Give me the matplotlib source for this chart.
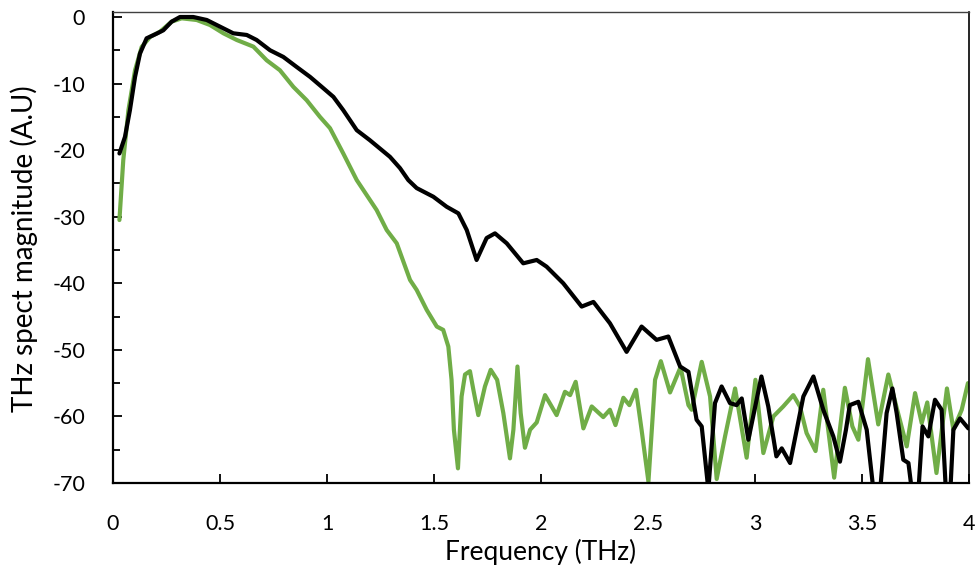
import matplotlib
matplotlib.use("Agg")
import matplotlib.pyplot as plt
from matplotlib.ticker import MultipleLocator

plt.rcParams['font.family'] = ['Lato', 'DejaVu Sans']
plt.rcParams['axes.unicode_minus'] = False

# Black series
black_f = [0.03, 0.056, 0.079, 0.103, 0.126, 0.157, 0.204, 0.235, 0.274, 0.313, 0.375, 0.438, 0.5,
           0.562, 0.625, 0.671, 0.734, 0.796, 0.858, 0.921, 0.983, 1.03, 1.076, 1.139, 1.2, 1.294,
           1.341, 1.38, 1.419, 1.497, 1.559, 1.614, 1.653, 1.699, 1.746, 1.785, 1.84, 1.917, 1.98,
           2.026, 2.104, 2.19, 2.245, 2.322, 2.4, 2.47, 2.54, 2.595, 2.65, 2.689, 2.727, 2.751,
           2.782, 2.813, 2.844, 2.883, 2.914, 2.938, 2.969, 3.03, 3.062, 3.1, 3.125, 3.164, 3.195,
           3.226, 3.273, 3.319, 3.366, 3.397, 3.425, 3.443, 3.483, 3.522, 3.56, 3.58, 3.615, 3.642,
           3.662, 3.693, 3.717, 3.74, 3.76, 3.783, 3.81, 3.841, 3.872, 3.895, 3.91, 3.927, 3.958, 3.997]
black_m = [-20.5, -18, -14, -9, -5.5, -3.2, -2.5, -2.0, -0.7, 0, 0, -0.45, -1.45,
           -2.45, -2.7, -3.45, -5, -6, -7.5, -9, -10.7, -12, -14, -17, -18.5, -21,
           -22.7, -24.5, -25.7, -27, -28.5, -29.5, -32, -36.5, -33.2, -32.5, -34, -37, -36.5,
           -37.5, -40, -43.5, -42.8, -46, -50.3, -46.5, -48.5, -48, -52.5, -53.3, -60.5, -61.5,
           -71, -58, -55.5, -58, -58.3, -57.3, -63.5, -54, -58.5, -66, -64.8, -67, -62,
           -57, -54, -59, -63, -66.8, -62, -58.3, -57.8, -62, -73, -73, -59.5, -55.8,
           -59.5, -66.5, -67, -73, -73, -61.5, -63, -57.5, -59, -73, -73, -62, -60.3, -61.8]

# Green series
green_f = [0.03, 0.048, 0.072, 0.103, 0.134, 0.173, 0.22, 0.274, 0.321, 0.391, 0.453, 0.516, 0.578,
           0.656, 0.718, 0.78, 0.843, 0.905, 0.967, 1.014, 1.076, 1.139, 1.232, 1.279, 1.326, 1.388,
           1.419, 1.466, 1.513, 1.543, 1.567, 1.582, 1.593, 1.612, 1.629, 1.645, 1.668, 1.684, 1.707,
           1.738, 1.765, 1.795, 1.824, 1.855, 1.871, 1.89, 1.905, 1.925, 1.949, 1.98, 2.019, 2.073,
           2.112, 2.136, 2.162, 2.198, 2.237, 2.291, 2.322, 2.348, 2.385, 2.413, 2.444, 2.47, 2.502,
           2.533, 2.56, 2.603, 2.652, 2.689, 2.704, 2.751, 2.79, 2.821, 2.86, 2.907, 2.961, 3.002,
           3.039, 3.086, 3.132, 3.179, 3.21, 3.241, 3.283, 3.319, 3.37, 3.42, 3.455, 3.483, 3.528,
           3.576, 3.623, 3.662, 3.709, 3.748, 3.779, 3.805, 3.848, 3.897, 3.927, 3.966, 3.995]
green_m = [-30.5, -21.5, -14, -8, -4.5, -3, -2.2, -0.7, -0.2, -0.45, -1.2, -2.45, -3.45,
           -4.45, -6.5, -8, -10.5, -12.5, -15, -16.7, -20.5, -24.5, -29, -32, -34, -39.5,
           -41, -44, -46.5, -47, -49.5, -54.5, -62, -67.8, -57, -53.7, -53.2, -56, -59.8,
           -55.5, -53, -54.5, -59.5, -66.3, -62, -52.5, -59.5, -64.7, -62, -60.9, -56.8, -59.8,
           -56.3, -56.8, -54.8, -61.8, -58.5, -60.1, -59, -61.3, -57.2, -58.3, -56, -62, -69.8,
           -54.5, -51.7, -56.4, -52.6, -58.3, -59, -51.8, -57, -69.4, -63, -55.8, -66.2, -54.5,
           -65.5, -60, -58.5, -56.8, -58.5, -62.5, -65.2, -56, -69.2, -55.7, -61.5, -63.5, -51.4,
           -61.2, -53.7, -58.7, -64.5, -56.5, -61, -57.9, -68.5, -55.8, -62, -59, -55]

x_ticks = [0, 0.5, 1, 1.5, 2, 2.5, 3, 3.5, 4]
x_tick_labels = ['0', '0.5', '1', '1.5', '2', '2.5', '3', '3.5', '4']
y_ticks = [0, -10, -20, -30, -40, -50, -60, -70]

fig = plt.figure(figsize=(9.79, 5.83), dpi=100)
ax = fig.add_axes([113/979, 1 - 483/583, (969 - 113)/979, (483 - 12)/583])

ax.plot(green_f, green_m, color='#70AD47', lw=3.0, solid_joinstyle='round', solid_capstyle='round')
ax.plot(black_f, black_m, color='black', lw=3.0, solid_joinstyle='round', solid_capstyle='round')

ax.set_xlim(0, 4)
ax.set_ylim(-70, 0.75)
ax.set_xticks(x_ticks)
ax.set_xticklabels(x_tick_labels)
ax.set_yticks(y_ticks)
ax.yaxis.set_minor_locator(MultipleLocator(5))

ax.tick_params(axis='both', which='major', direction='in', length=6.5, width=1.3,
               labelsize=15.5, color='black')
ax.tick_params(axis='y', which='minor', direction='in', length=5, width=1.3)
ax.tick_params(axis='y', which='major', pad=20)
ax.tick_params(axis='x', which='major', pad=22)

for side in ['left', 'bottom']:
    ax.spines[side].set_linewidth(1.6)
    ax.spines[side].set_color('black')
ax.spines['right'].set_linewidth(1.2)
ax.spines['right'].set_color('black')
ax.spines['top'].set_linewidth(1.0)
ax.spines['top'].set_color('#404040')

ax.set_xlabel('Frequency (THz)', fontsize=19)
ax.set_ylabel('THz spect magnitude (A.U)', fontsize=20)
ax.xaxis.set_label_coords(0.5, (483 - 539) / 471)
ax.yaxis.set_label_coords((38 - 113) / 856, (483 - 249) / 471)

fig.savefig('out.png', dpi=100)
